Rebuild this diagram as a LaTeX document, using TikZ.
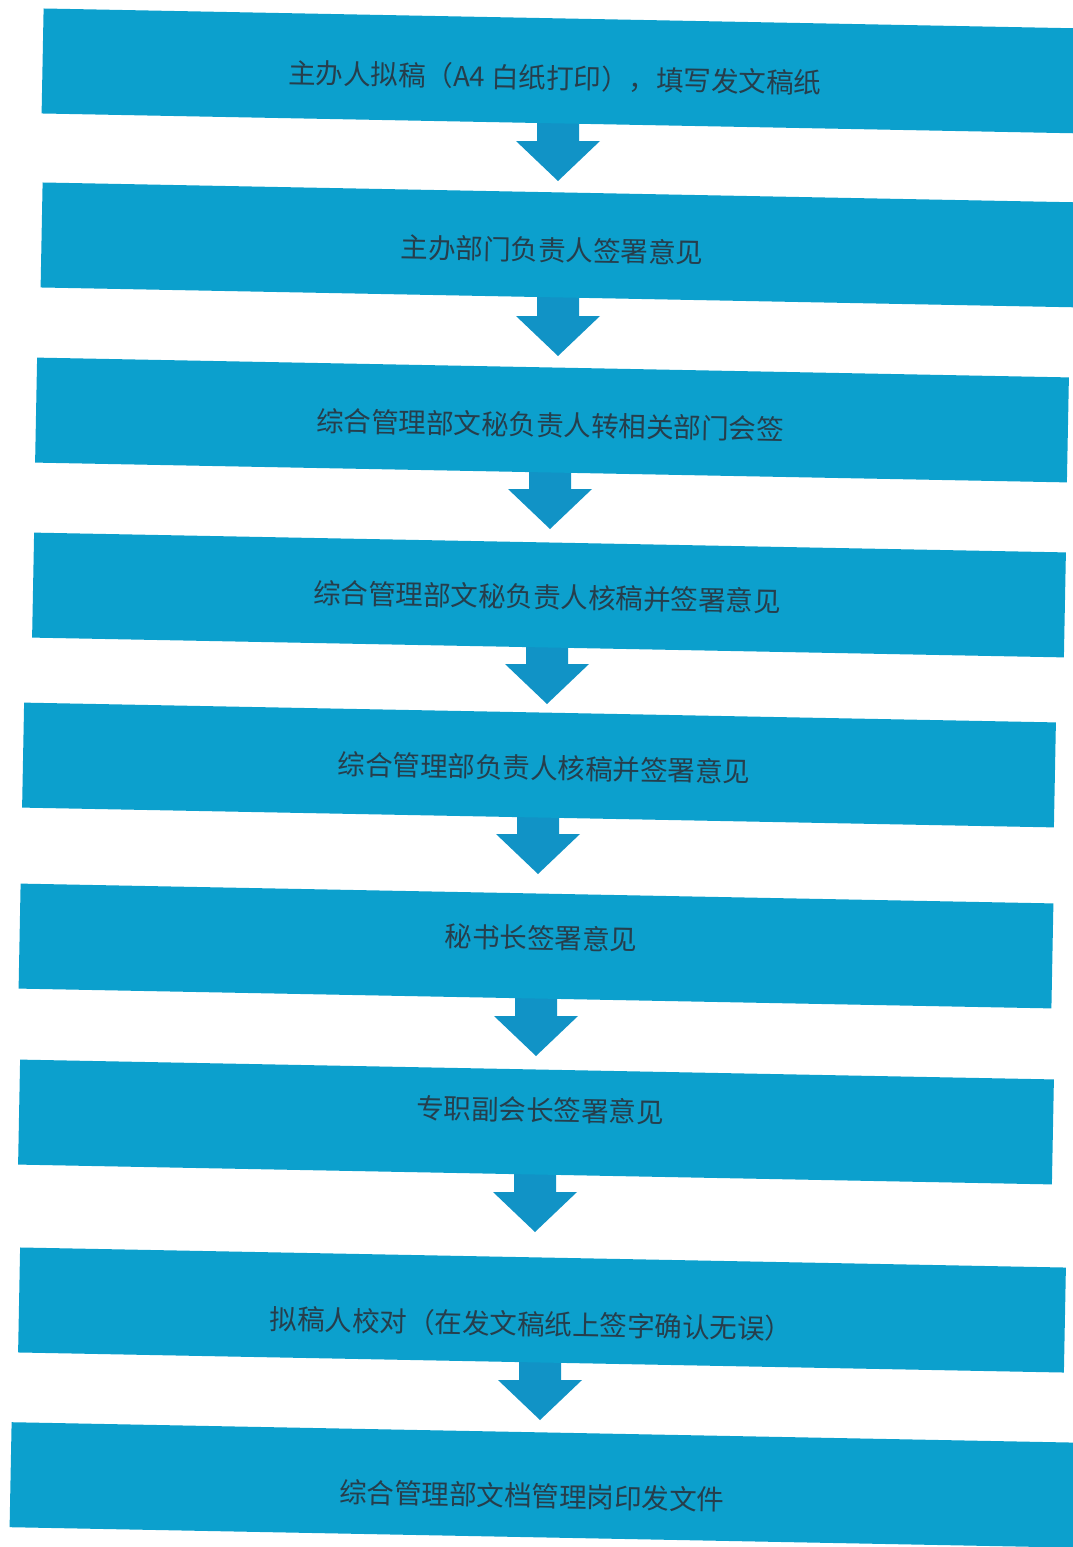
\documentclass[tikz,border=0pt]{standalone}
\usepackage{fontspec}
\newfontfamily\cjk{Noto Sans CJK SC}
\definecolor{boxc}{HTML}{0CA0CD}
\definecolor{arrc}{HTML}{1193C6}
\definecolor{txtc}{HTML}{263E4C}
\newcommand\flowarr[1]{%
  \fill[arrc] ([shift={(-21,-62)}]#1) -- ([shift={(21,-62)}]#1) -- ([shift={(21,-40)}]#1)
    -- ([shift={(42,-40)}]#1) -- (#1) -- ([shift={(-42,-40)}]#1) -- ([shift={(-21,-40)}]#1) -- cycle;}
\begin{document}
\begin{tikzpicture}[x=1pt,y=-1pt,
  stepbox/.style={fill=boxc, draw=none, minimum width=#1, minimum height=105pt,
    inner sep=0pt, rotate=-1.1, anchor=center},
  steptext/.style={font=\cjk\fontsize{27.5}{32}\selectfont, text=txtc, rotate=-1.1,
    inner sep=0pt, anchor=center}]
\fill[white] (0,0) rectangle (1072,1547);
\useasboundingbox (0,0) rectangle (1072,1547);

% arrow tips
\coordinate (a1) at (558,181);
\coordinate (a2) at (558,356);
\coordinate (a3) at (550,529);
\coordinate (a4) at (547,704);
\coordinate (a5) at (538,874);
\coordinate (a6) at (536,1056);
\coordinate (a7) at (535,1232);
\coordinate (a8) at (540,1420);
\foreach \a in {a1,a2,a3,a4,a5,a6,a7,a8} {\flowarr{\a}}

% boxes
\node[stepbox=1045] (b1) at (565,71) {};
\node[stepbox=1045] (b2) at (564,245) {};
\node[stepbox=1032] (b3) at (552,420) {};
\node[stepbox=1032] (b4) at (549,595) {};
\node[stepbox=1032] (b5) at (539,765) {};
\node[stepbox=1033] (b6) at (536,946) {};
\node[stepbox=1034] (b7) at (536,1122) {};
\node[stepbox=1046] (b8) at (542,1310) {};
\node[stepbox=1075] (b9) at (548,1485) {};

% texts
\node[steptext] (t1) at (555,78) {主办人拟稿（A4 白纸打印），填写发文稿纸};
\node[steptext] (t2) at (552,250) {主办部门负责人签署意见};
\node[steptext] (t3) at (550,425) {综合管理部文秘负责人转相关部门会签};
\node[steptext] (t4) at (547,597) {综合管理部文秘负责人核稿并签署意见};
\node[steptext] (t5) at (544,768) {综合管理部负责人核稿并签署意见};
\node[steptext] (t6) at (541,938) {秘书长签署意见};
\node[steptext] (t7) at (540,1110) {专职副会长签署意见};
\node[steptext] (t8) at (531,1324) {拟稿人校对（在发文稿纸上签字确认无误）};
\node[steptext] (t9) at (532,1496) {综合管理部文档管理岗印发文件};
\end{tikzpicture}
\end{document}
